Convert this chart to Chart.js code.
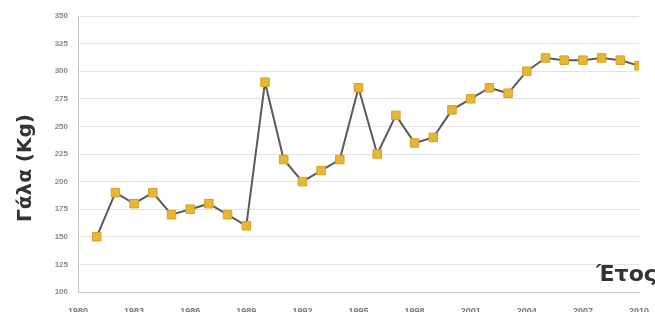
<!DOCTYPE html>
<html>
<head>
<meta charset="utf-8">
<script src="https://cdn.jsdelivr.net/npm/chart.js@4/dist/chart.umd.min.js"></script>
<style>
  html, body { margin: 0; padding: 0; background: #fff; overflow: hidden; }
  #milkChart { display: block; }
</style>
</head>
<body>
<canvas id="milkChart" width="655" height="312"></canvas>
<script>
// Milk yield per year
const years = [1981, 1982, 1983, 1984, 1985, 1986, 1987, 1988, 1989, 1990,
    1991, 1992, 1993, 1994, 1995, 1996, 1997, 1998, 1999, 2000,
    2001, 2002, 2003, 2004, 2005, 2006, 2007, 2008, 2009, 2010];
const milk = [150, 190, 180, 190, 170, 175, 180, 170, 160, 290,
    220, 200, 210, 220, 285, 225, 260, 235, 240, 265,
    275, 285, 280, 300, 312, 310, 310, 312, 310, 305];
const yAxisTitle = "Γάλα (Kg)";
const xAxisTitle = "Έτος";

const ctx = document.getElementById("milkChart").getContext("2d");

// axis titles: rotated one on the left, "Έτος" in the bottom right corner
const axisTitles = {
    id: "axisTitles",
    afterDraw(chart) {
        const c = chart.ctx;
        c.save();
        c.fillStyle = "#333";
        c.font = "bold 22px 'DejaVu Sans', sans-serif";
        c.textBaseline = "alphabetic";
        c.textAlign = "left";
        c.fillText(xAxisTitle, 596, 281);

        c.font = "bold 20px 'DejaVu Sans', sans-serif";
        c.translate(31, 168);
        c.rotate(-Math.PI / 2);
        c.textAlign = "center";
        c.fillText(yAxisTitle, 0, 0);
        c.restore();
    }
};

new Chart(ctx, {
    type: "line",
    data: {
        datasets: [{
            data: years.map((y, i) => ({ x: y, y: milk[i] })),
            borderColor: "#5a5a5a",
            borderWidth: 2,
            pointStyle: "rect",
            pointRadius: 6,
            pointBackgroundColor: "#e9b534",
            pointBorderColor: "#d4a020",
            pointBorderWidth: 1,
            tension: 0
        }]
    },
    options: {
        responsive: false,
        animation: false,
        layout: { padding: { top: 16, right: 16, left: 0, bottom: 0 } },
        plugins: { legend: { display: false }, tooltip: { enabled: false } },
        scales: {
            x: {
                type: "linear",
                min: 1980,
                max: 2010,
                afterFit(scale) {
                    scale.height = 20;
                    scale.paddingLeft = 0;
                    scale.paddingRight = 0;
                },
                grid: { display: false, drawTicks: false },
                border: { color: "#c8c8c8", width: 1, dash: [3, 2] },
                ticks: {
                    stepSize: 3,
                    padding: 14,
                    maxRotation: 0,
                    autoSkip: false,
                    color: "#777",
                    font: { size: 9, family: "'Liberation Sans', Arial, sans-serif", weight: "bold" },
                    callback: v => String(v)
                }
            },
            y: {
                min: 100,
                max: 350,
                afterFit(scale) {
                    scale.width = 78;
                    scale.paddingTop = 0;
                    scale.paddingBottom = 0;
                },
                grid: { color: "#e2e2e2", drawTicks: false },
                border: { color: "#c8c8c8", width: 1 },
                ticks: {
                    stepSize: 25,
                    padding: 10,
                    color: "#888",
                    font: { size: 8, family: "'Liberation Sans', Arial, sans-serif", weight: "bold" }
                }
            }
        }
    },
    plugins: [axisTitles]
});
</script>
</body>
</html>
